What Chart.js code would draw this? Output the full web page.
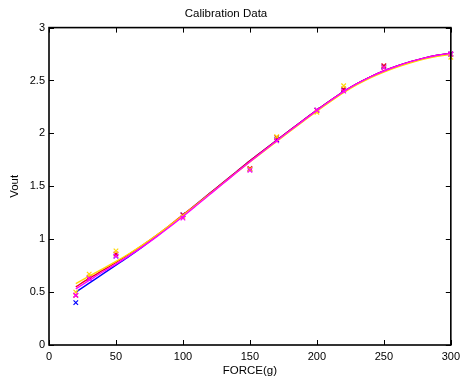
<!DOCTYPE html>
<html><head><meta charset="utf-8">
<script src="https://cdn.jsdelivr.net/npm/chart.js@4.4.1/dist/chart.umd.min.js"></script>
<style>html,body{margin:0;padding:0;background:#fff}canvas{display:block}</style>
</head><body>
<canvas id="c" width="465" height="380"></canvas>
<script>
// Measured calibration points
const forceX = [20, 30, 50, 100, 150, 170, 200, 220, 250, 300];
const blueY    = [0.40, 0.63, 0.84, 1.23, 1.66, 1.94, 2.22, 2.41, 2.63, 2.75];
const redY     = [0.47, 0.64, 0.86, 1.23, 1.67, 1.96, 2.22, 2.42, 2.64, 2.75];
const yellowY  = [0.50, 0.67, 0.89, 1.21, 1.66, 1.97, 2.20, 2.45, 2.62, 2.72];
const magentaY = [0.47, 0.63, 0.84, 1.20, 1.65, 1.93, 2.22, 2.40, 2.62, 2.75];

// Fitted curves
const fitX = [20,30,40,50,60,70,80,90,100,110,120,130,140,150,160,170,180,190,200,210,220,230,240,250,260,270,280,290,300];
const blueFit    = [0.50,0.585,0.67,0.755,0.84,0.93,1.025,1.125,1.227,1.33,1.433,1.536,1.638,1.74,1.838,1.935,2.031,2.126,2.22,2.31,2.395,2.47,2.535,2.59,2.637,2.678,2.712,2.739,2.757];
const redFit     = [0.55,0.63,0.705,0.78,0.86,0.945,1.035,1.13,1.23,1.33,1.433,1.536,1.638,1.74,1.838,1.935,2.031,2.126,2.22,2.31,2.395,2.47,2.535,2.59,2.637,2.678,2.712,2.739,2.757];
const yellowFit  = [0.58,0.65,0.72,0.79,0.865,0.947,1.035,1.128,1.225,1.325,1.427,1.529,1.63,1.73,1.828,1.925,2.021,2.116,2.21,2.30,2.385,2.46,2.525,2.58,2.627,2.668,2.702,2.728,2.745];
const magentaFit = [0.53,0.61,0.69,0.765,0.845,0.93,1.02,1.115,1.215,1.318,1.422,1.526,1.63,1.732,1.832,1.93,2.027,2.123,2.218,2.309,2.395,2.47,2.535,2.59,2.637,2.678,2.712,2.739,2.757];

const xTicks = [0, 50, 100, 150, 200, 250, 300];
const yTicks = [0, 0.5, 1, 1.5, 2, 2.5, 3];
const yTickLabels = ['0', '0.5', '1', '1.5', '2', '2.5', '3'];
const xTickLabels = ['0', '50', '100', '150', '200', '250', '300'];

const C = {blue:'#0000ff', red:'#ee0020', yellow:'#ffd800', magenta:'#ff00ff'};

function pts(xs, ys){ return xs.map((x,i)=>({x:x, y:ys[i]})); }
function curve(ys, col){
  return {data: pts(fitX, ys), showLine:true, borderColor:col, borderWidth:1.4,
          pointRadius:0, cubicInterpolationMode:'monotone', fill:false};
}
function marks(ys, col){
  return {data: pts(forceX, ys), showLine:false, pointStyle:'crossRot', pointRadius:3.2,
          borderColor:col, backgroundColor:col, pointBorderWidth:1.2, clip:false};
}

const boxPlugin = {
  id:'box',
  afterDraw(chart){
    const {ctx, chartArea:a, scales} = chart;
    ctx.save();
    ctx.strokeStyle = '#000';
    ctx.lineWidth = 1;
    const L = 5;
    ctx.beginPath();
    scales.x.ticks.forEach(t=>{
      const px = Math.round(scales.x.getPixelForValue(t.value)) + 0.5;
      ctx.moveTo(px, a.bottom); ctx.lineTo(px, a.bottom - L);
      ctx.moveTo(px, a.top); ctx.lineTo(px, a.top + L);
    });
    scales.y.ticks.forEach(t=>{
      const py = Math.round(scales.y.getPixelForValue(t.value)) + 0.5;
      ctx.moveTo(a.left, py); ctx.lineTo(a.left + L, py);
      ctx.moveTo(a.right, py); ctx.lineTo(a.right - L, py);
    });
    ctx.stroke();
    ctx.lineWidth = 1.6;
    ctx.strokeRect(a.left, a.top, a.right - a.left, a.bottom - a.top);
    ctx.restore();
  }
};

const tickFont = {family:'"Liberation Sans", Arial, sans-serif', size:11, weight:'normal'};
const labFont = {family:'"Liberation Sans", Arial, sans-serif', size:11.5, weight:'normal'};

new Chart(document.getElementById('c'), {
  type:'scatter',
  data:{datasets:[
    marks(magentaY, C.magenta), curve(magentaFit, C.magenta),
    marks(yellowY, C.yellow), curve(yellowFit, C.yellow),
    marks(redY, C.red), curve(redFit, C.red),
    marks(blueY, C.blue), curve(blueFit, C.blue)
  ]},
  options:{
    responsive:false, animation:false, devicePixelRatio:1,
    layout:{padding:{left:0, right:13, top:0, bottom:0}},
    plugins:{
      legend:{display:false}, tooltip:{enabled:false},
      title:{display:true, text:'Calibration Data', color:'#000', font:labFont,
             padding:{top:7, bottom:6.8}}
    },
    scales:{
      x:{type:'linear', min:0, max:300,
         afterBuildTicks(s){ s.ticks = xTicks.map(v=>({value:v})); },
         afterFit(s){ s.height = 35; },
         grid:{display:false, drawTicks:false},
         border:{display:false},
         ticks:{color:'#000', font:tickFont, padding:5, maxRotation:0, autoSkip:false,
                callback:(v)=>xTickLabels[xTicks.indexOf(v)]},
         title:{display:true, text:'FORCE(g)', color:'#000', font:labFont, padding:{top:0,bottom:2.7}}
      },
      y:{type:'linear', min:0, max:3,
         afterBuildTicks(s){ s.ticks = yTicks.map(v=>({value:v})); },
         afterFit(s){ s.width = 49; },
         grid:{display:false, drawTicks:false},
         border:{display:false},
         ticks:{color:'#000', font:tickFont, padding:4, autoSkip:false,
                callback:(v)=>yTickLabels[yTicks.indexOf(v)]},
         title:{display:true, text:'Vout', color:'#000', font:labFont, padding:{top:8.4,bottom:0}}
      }
    }
  },
  plugins:[boxPlugin]
});
</script>
</body></html>
